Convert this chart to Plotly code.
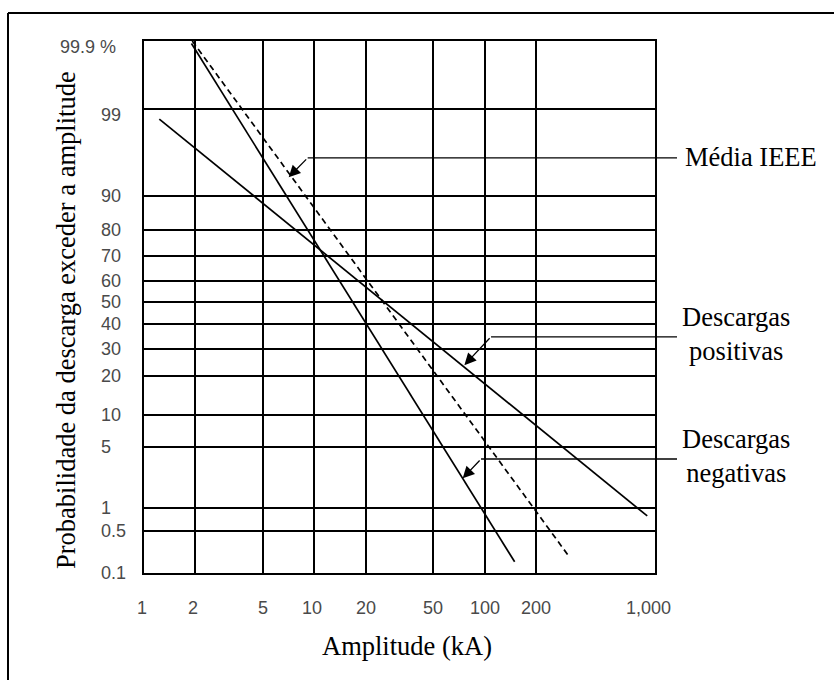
import numpy as np
from statistics import NormalDist
import plotly.graph_objects as go

# ---------------- data ----------------
# amplitude axis (kA, log scale)
AMP_TICKS = [1, 2, 5, 10, 20, 50, 100, 200, 1000]
AMP_TICK_TEXT = ["1", "2", "5", "10", "20", "50", "100", "200", "1,000"]

# probability axis (% of strokes exceeding the amplitude)
PROB_TICKS = [0.1, 0.5, 1, 5, 10, 20, 30, 40, 50, 60, 70, 80, 90, 99, 99.9]
PROB_TICK_TEXT = ["0.1", "0.5", "1", "5", "10", "20", "30", "40", "50",
                  "60", "70", "80", "90", "99", "99.9 %"]
# rulings of the printed probability paper, in normal-score units as drawn
PROB_PAPER_Z = [-3.090, -2.599, -2.335, -1.626, -1.255, -0.798, -0.488, -0.194,
                0.058, 0.302, 0.592, 0.895, 1.290, 2.300, 3.090]

# straight lines (end points)
NEG_AMP = [1.9, 150]          # Descargas negativas
NEG_PROB = [99.89, 0.157]
POS_AMP = [1.23, 900]         # Descargas positivas
POS_PROB = [98.63, 0.79]
IEEE_AMP = [1.92, 310]        # Média IEEE
IEEE_PROB = [99.9, 0.2]

# callouts: (label, arrow tip kA, tip %, elbow kA, elbow %)
CALLOUTS = [
    ("Média IEEE", 7.07, 93.4, 9.14, 95.9),
    ("Descargas<br>positivas", 76.0, 23.7, 109.0, 34.7),
    ("Descargas<br>negativas", 74.3, 2.3, 95.2, 3.76),
]

# ---------------- scales ----------------
ND = NormalDist()
TRUE_Z = [ND.inv_cdf(p / 100.0) for p in PROB_TICKS]
Y_MIN, Y_MAX = PROB_PAPER_Z[0], PROB_PAPER_Z[-1]
X_LOG_MIN, X_LOG_MAX = 0.0, 3.0


def py(probs):
    z = [ND.inv_cdf(p / 100.0) for p in np.atleast_1d(probs)]
    return np.interp(z, TRUE_Z, PROB_PAPER_Z)


def ypaper(p):
    return float((py(p)[0] - Y_MIN) / (Y_MAX - Y_MIN))


def xpaper(kA):
    return float((np.log10(kA) - X_LOG_MIN) / (X_LOG_MAX - X_LOG_MIN))


# ---------------- figure ----------------
W, H = 834, 680
ML, MR, MT, MB = 144, 179, 41, 107
PW, PH = W - ML - MR, H - MT - MB


def px2paper_x(px):
    return (px - ML) / PW


def px2paper_y(py_):
    return (H - MB - py_) / PH


SERIF = "Liberation Serif, Times New Roman, serif"
SANS = "Liberation Sans, Arial, sans-serif"
TICK_COLOR = "#4a4a4a"

fig = go.Figure()
line_style = dict(color="black", width=1.7)
fig.add_trace(go.Scatter(x=NEG_AMP, y=py(NEG_PROB), mode="lines",
                         line=line_style, name="Descargas negativas"))
fig.add_trace(go.Scatter(x=POS_AMP, y=py(POS_PROB), mode="lines",
                         line=line_style, name="Descargas positivas"))
fig.add_trace(go.Scatter(x=IEEE_AMP, y=py(IEEE_PROB), mode="lines",
                         line=dict(color="black", width=1.7, dash="6px,4px"),
                         name="Média IEEE"))

annotations = []
shapes = []

# y tick labels (left aligned as on the original)
for val, txt in zip(PROB_TICKS, PROB_TICK_TEXT):
    annotations.append(dict(
        x=px2paper_x(58 if "%" in txt else 99), xref="paper", xanchor="left",
        y=float(py(val)[0]), yref="y", yanchor="middle",
        yshift=-6 if val >= 99 else 0,
        text=txt, showarrow=False,
        font=dict(family=SANS, size=18, color=TICK_COLOR)))

# x tick labels
for val, txt in zip(AMP_TICKS, AMP_TICK_TEXT):
    annotations.append(dict(
        x=np.log10(val), xref="x", xanchor="center",
        xshift=-7 if val == 1000 else (-2 if val in (1, 2, 10) else 0),
        y=px2paper_y(608), yref="paper", yanchor="middle",
        text=txt, showarrow=False,
        font=dict(family=SANS, size=18, color=TICK_COLOR)))

# axis titles
annotations.append(dict(
    text="Probabilidade da descarga exceder a amplitude", textangle=-90,
    x=px2paper_x(66), xref="paper", xanchor="center",
    y=px2paper_y(320), yref="paper", yanchor="middle", showarrow=False,
    font=dict(family=SERIF, size=26.5, color="black")))
annotations.append(dict(
    text="Amplitude (kA)",
    x=px2paper_x(407), xref="paper", xanchor="center",
    y=px2paper_y(646), yref="paper", yanchor="middle", showarrow=False,
    font=dict(family=SERIF, size=26.5, color="black")))

# callouts: arrow + horizontal leader + label
LEADER_END_X = px2paper_x(677)
for label, tip_a, tip_p, elb_a, elb_p in CALLOUTS:
    annotations.append(dict(
        x=np.log10(tip_a), y=float(py(tip_p)[0]), xref="x", yref="y",
        ax=np.log10(elb_a), ay=float(py(elb_p)[0]), axref="x", ayref="y",
        text="", showarrow=True, arrowhead=2, arrowsize=1.8,
        arrowwidth=1.3, arrowcolor="black", standoff=0, startstandoff=0))
    shapes.append(dict(
        type="line", xref="paper", yref="paper",
        x0=xpaper(elb_a), x1=LEADER_END_X,
        y0=ypaper(elb_p), y1=ypaper(elb_p),
        line=dict(color="black", width=1.3)))
    if "<br>" in label:
        annotations.append(dict(
            text=label, x=px2paper_x(736), xref="paper", xanchor="center",
            y=ypaper(elb_p), yref="paper", yanchor="middle", yshift=3,
            showarrow=False, align="center",
            font=dict(family=SERIF, size=26.5, color="black")))
    else:
        annotations.append(dict(
            text=label, x=px2paper_x(683), xref="paper", xanchor="left",
            y=ypaper(elb_p), yref="paper", yanchor="middle", yshift=1,
            showarrow=False,
            font=dict(family=SERIF, size=26.5, color="black")))

# outer frame (left and top edges visible)
FX, FY = px2paper_x(8), px2paper_y(13)
shapes.append(dict(type="line", xref="paper", yref="paper",
                   x0=FX, x1=FX, y0=px2paper_y(H + 5), y1=FY,
                   line=dict(color="black", width=2)))
shapes.append(dict(type="line", xref="paper", yref="paper",
                   x0=FX, x1=px2paper_x(W + 5), y0=FY, y1=FY,
                   line=dict(color="black", width=2)))

fig.update_layout(
    width=W, height=H, autosize=False,
    margin=dict(l=ML, r=MR, t=MT, b=MB, pad=0),
    paper_bgcolor="white", plot_bgcolor="white",
    showlegend=False,
    annotations=annotations, shapes=shapes,
    xaxis=dict(type="log", range=[X_LOG_MIN, X_LOG_MAX],
               tickvals=AMP_TICKS[1:-1], showticklabels=False, ticks="",
               showgrid=True, gridcolor="black", gridwidth=1.8,
               showline=True, linecolor="black", linewidth=2, mirror=True,
               zeroline=False),
    yaxis=dict(range=[Y_MIN, Y_MAX],
               tickvals=PROB_PAPER_Z[1:-1], showticklabels=False, ticks="",
               showgrid=True, gridcolor="black", gridwidth=1.8,
               showline=True, linecolor="black", linewidth=2, mirror=True,
               zeroline=False),
)

fig.write_html("out.html")
